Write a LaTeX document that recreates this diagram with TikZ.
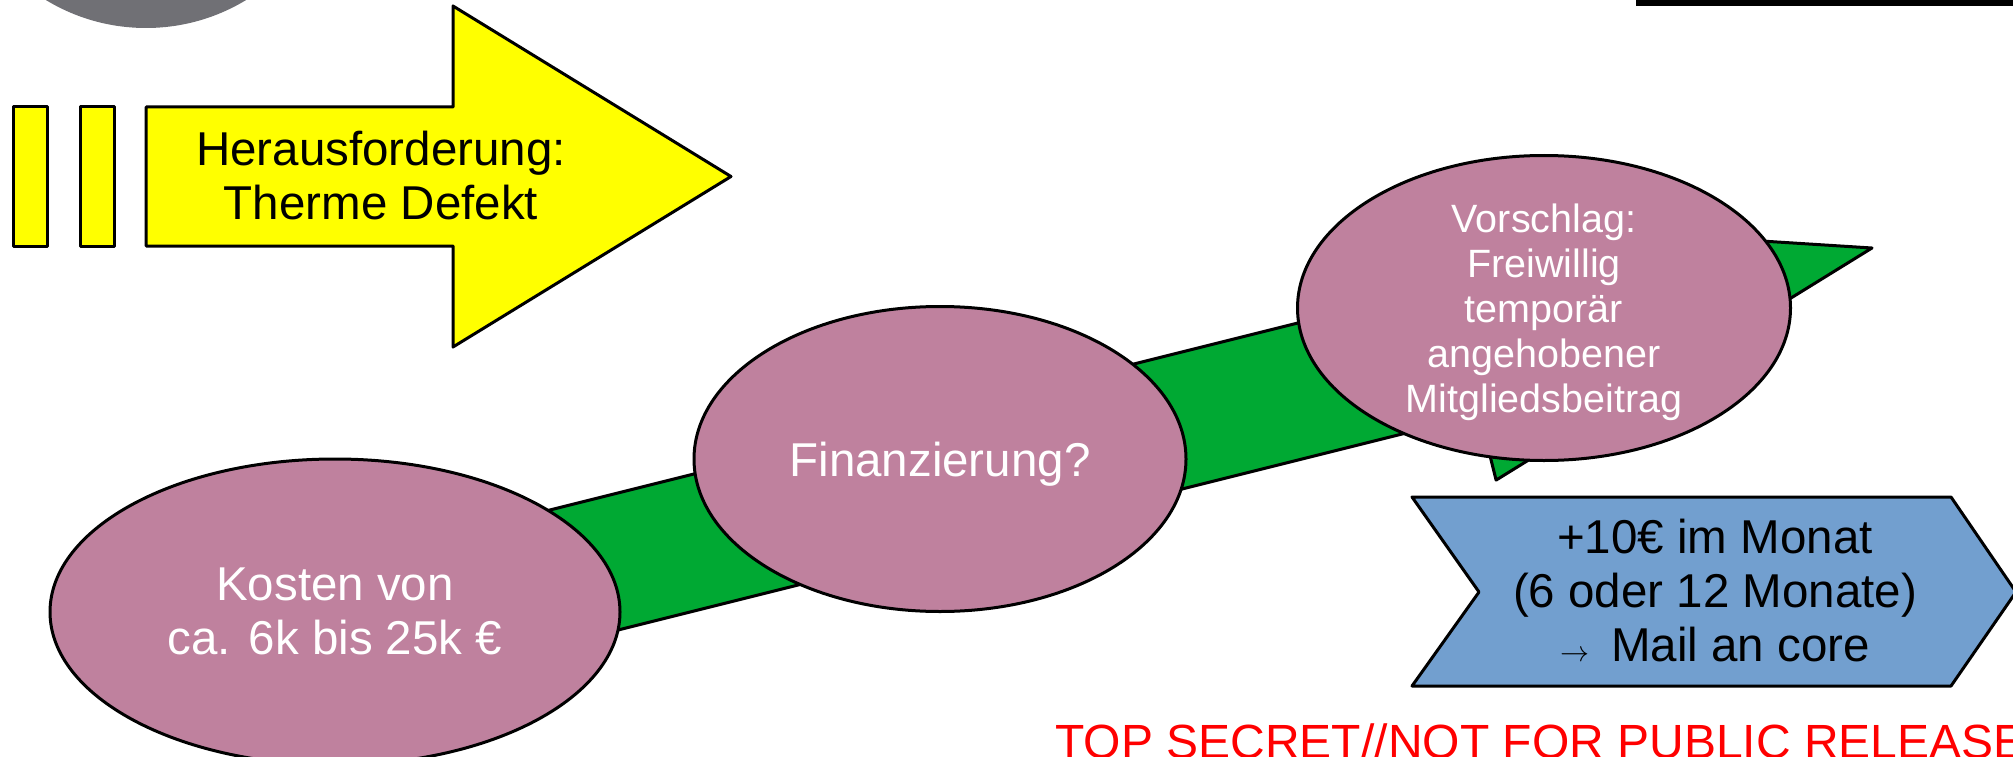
\documentclass[tikz,border=0pt]{standalone}
\usepackage{fontspec}
\usepackage{graphicx}
\setmainfont{Liberation Sans}
\usetikzlibrary{shapes.geometric}
\definecolor{mauve}{HTML}{BF819E}
\definecolor{leafgreen}{HTML}{00A933}
\definecolor{skyblue}{HTML}{729FCF}
\definecolor{discgrey}{HTML}{707075}
\definecolor{signyellow}{HTML}{FFFF00}

\begin{document}
\begin{tikzpicture}[x=1pt,y=-1pt,line width=3pt,line join=round,
    bubble/.style={ellipse,draw,fill=mauve,inner sep=0pt},
    bubbletext/.style={text=white,align=center,font=\fontsize{47.5}{54}\selectfont},
    boxtext/.style={align=center,font=\fontsize{47.5}{54}\selectfont}]
    \useasboundingbox (0,0) rectangle (2013,757);
    \clip (0,0) rectangle (2013,757);
    % cut-off shapes at the top edge
    \fill[discgrey] (146,-165) circle[radius=193];
    \fill[black] (1636,-5) rectangle (2013,6);
    % green arrow behind the bubbles
    \draw[fill=leafgreen] (383.9,551.5) -- (1447.5,285.6) -- (1431.1,220.1) -- (1872,248)
        -- (1496.1,480.1) -- (1479.7,414.6) -- (416.1,680.5) -- cycle;
    \node[bubble,minimum width=570pt,minimum height=306pt] (cost) at (335,612) {};
    \node[bubble,minimum width=492pt,minimum height=305pt] (fund) at (940,459) {};
    \node[bubble,minimum width=493pt,minimum height=305pt] (plan) at (1544,308) {};
    \node[bubbletext] (costtext) at (335,611) {Kosten von\\ca. 6k bis 25k €};
    \node[bubbletext] (fundtext) at (940,464) {Finanzierung?};
    \node[bubbletext,font=\fontsize{39.5}{45}\selectfont] (plantext) at (1544,312)
        {Vorschlag:\\Freiwillig\\temporär\\angehobener\\Mitgliedsbeitrag};
    % yellow arrow
    \draw[fill=signyellow] (13,107) rectangle (47,246);
    \draw[fill=signyellow] (80,107) rectangle (114,246);
    \draw[fill=signyellow] (146,107) -- (453,107) -- (453,6) -- (731,176.5) -- (453,347)
        -- (453,246) -- (146,246) -- cycle;
    \node[boxtext] (issue) at (381,176) {Herausforderung:\\Therme Defekt};
    % blue chevron
    \draw[fill=skyblue] (1412,497) -- (1951,497) -- (2016,592) -- (1951,686) -- (1412,686)
        -- (1479,592) -- cycle;
    \node[boxtext] (mail) at (1715,591)
        {+10€ im Monat\\(6 oder 12 Monate)\\\scalebox{2.9}{\normalsize$\rightarrow$}\hspace{22pt}Mail an core};
    \node[text=red,anchor=base west,inner sep=0pt,font=\fontsize{48}{55}\selectfont] (stamp)
        at (1054,758) {TOP SECRET//NOT FOR PUBLIC RELEASE};
\end{tikzpicture}
\end{document}
